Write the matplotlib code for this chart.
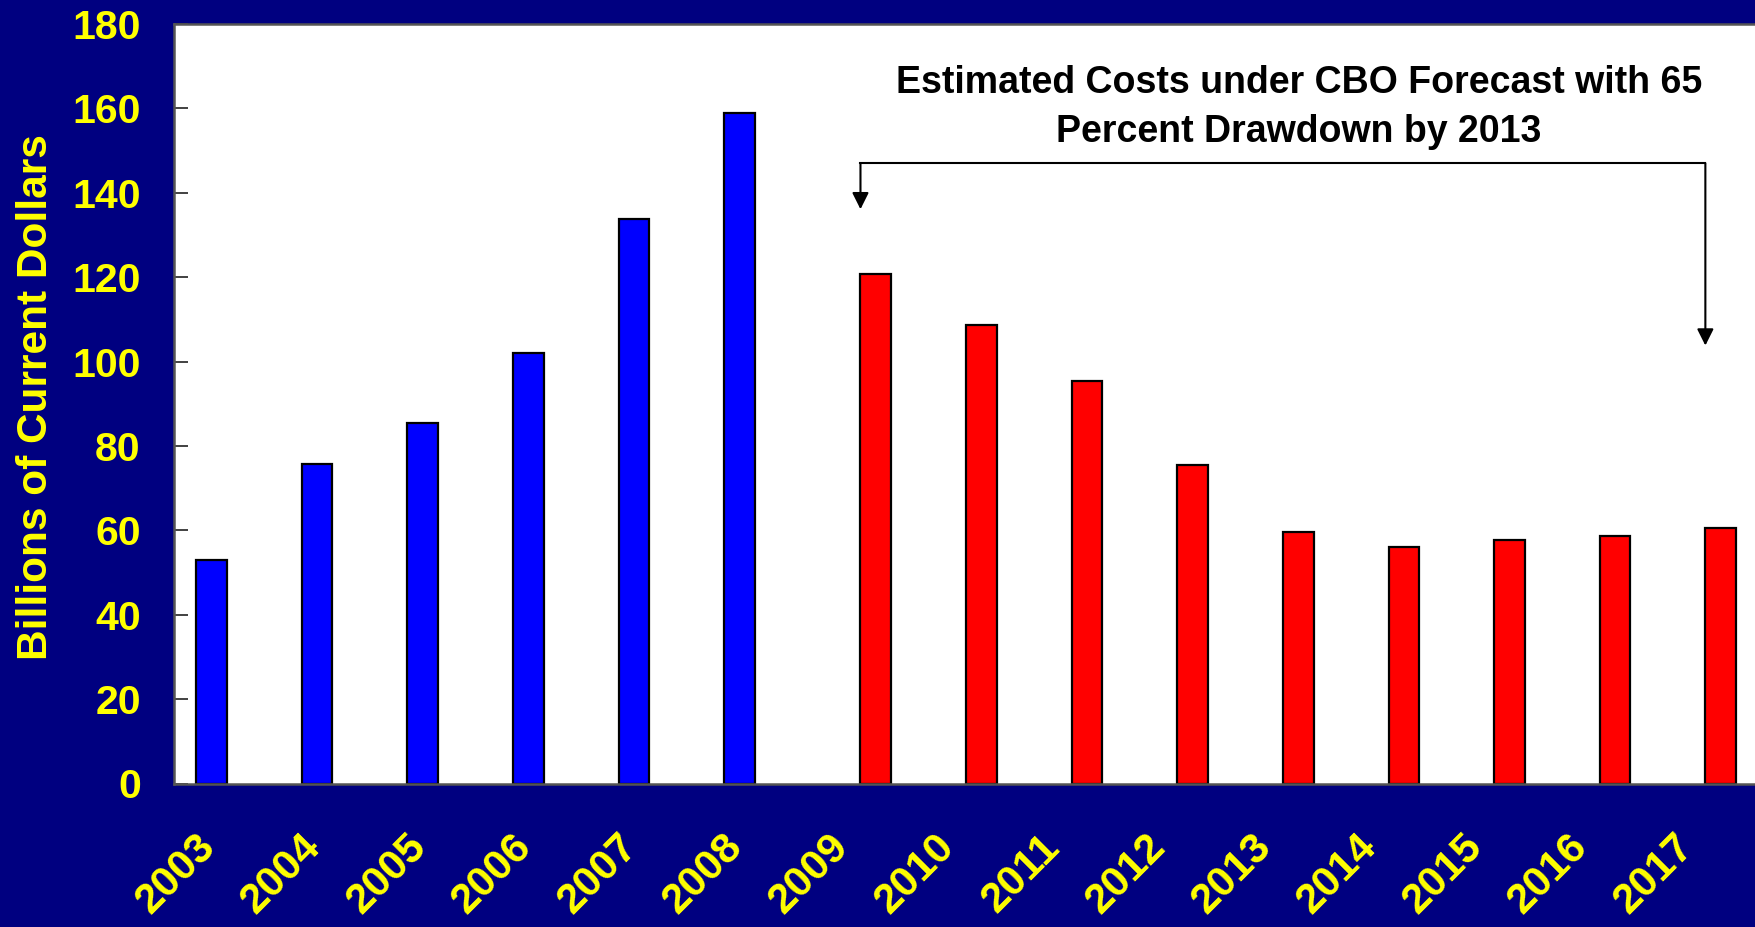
import matplotlib.pyplot as plt
from matplotlib.transforms import ScaledTranslation

# datos (miles de millones de dólares corrientes)
years = ['2003', '2004', '2005', '2006', '2007', '2008', '2009', '2010',
         '2011', '2012', '2013', '2014', '2015', '2016', '2017']
actual_costs = [53.0, 75.8, 85.5, 102.1, 133.7, 158.9]
cbo_costs = [120.8, 108.6, 95.5, 75.4, 59.5, 56.1, 57.8, 58.7, 60.5]

navy = '#000080'
yellow = '#FFFF00'
font = 'Liberation Sans'

fig = plt.figure(figsize=(17.55, 9.27), dpi=100, facecolor=navy)
ax = fig.add_axes([174 / 1755, 1 - 783.5 / 927, (1755 - 174) / 1755, (783.5 - 24) / 927])
ax.set_facecolor('white')

w = 0.29
x_blue = list(range(len(actual_costs)))
x_red = list(range(len(actual_costs), len(years)))
ax.bar(x_blue, actual_costs, width=-w, align='edge', color='#0000FF',
       edgecolor='black', linewidth=1.6)
ax.bar(x_red, cbo_costs, width=w, align='edge', color='#FF0000',
       edgecolor='black', linewidth=1.6)

ax.set_xlim(-0.5, 14.47)
ax.set_ylim(0, 180)
ax.set_yticks(range(0, 181, 20))
ax.set_xticks(range(len(years)))
ax.set_xticklabels(years, rotation=45, ha='right', va='center',
                   rotation_mode='anchor')

ax.tick_params(axis='y', direction='in', length=10, width=1.3, color='#333333',
               pad=24, labelsize=29.5, labelcolor=yellow)
ax.tick_params(axis='x', length=0, pad=45, labelsize=30.5, labelcolor=yellow)
shift = ScaledTranslation(-18 / 100, 5 / 100, fig.dpi_scale_trans)
for lab in ax.get_xticklabels():
    lab.set_transform(lab.get_transform() + shift)
for lab in ax.get_xticklabels() + ax.get_yticklabels():
    lab.set_fontfamily(font)
    lab.set_fontweight('bold')

for s in ['left', 'bottom', 'top']:
    ax.spines[s].set_color('#555555')
    ax.spines[s].set_linewidth(1.8)
ax.spines['right'].set_visible(False)

ax.set_ylabel('Billions of Current Dollars', fontsize=30.5, fontweight='bold',
              color=yellow, fontfamily=font)
ax.yaxis.set_label_coords(-0.0746, 0.509)

# anotación con corchete y flechas
ax.text(10.15, 163.6, 'Estimated Costs under CBO Forecast with 65',
        ha='center', va='baseline', fontsize=27, fontweight='bold',
        fontfamily=font, color='black')
ax.text(10.15, 152.0, 'Percent Drawdown by 2013',
        ha='center', va='baseline', fontsize=27, fontweight='bold',
        fontfamily=font, color='black')
ax.plot([6, 14], [147, 147], color='black', lw=1.5)
ax.annotate('', xy=(6, 136.1), xytext=(6, 147),
            arrowprops=dict(arrowstyle='-|>', color='black', lw=1.5,
                            mutation_scale=25, shrinkA=0, shrinkB=0))
ax.annotate('', xy=(14, 103.8), xytext=(14, 147),
            arrowprops=dict(arrowstyle='-|>', color='black', lw=1.5,
                            mutation_scale=25, shrinkA=0, shrinkB=0))

fig.savefig('out.png', dpi=100, facecolor=navy)
